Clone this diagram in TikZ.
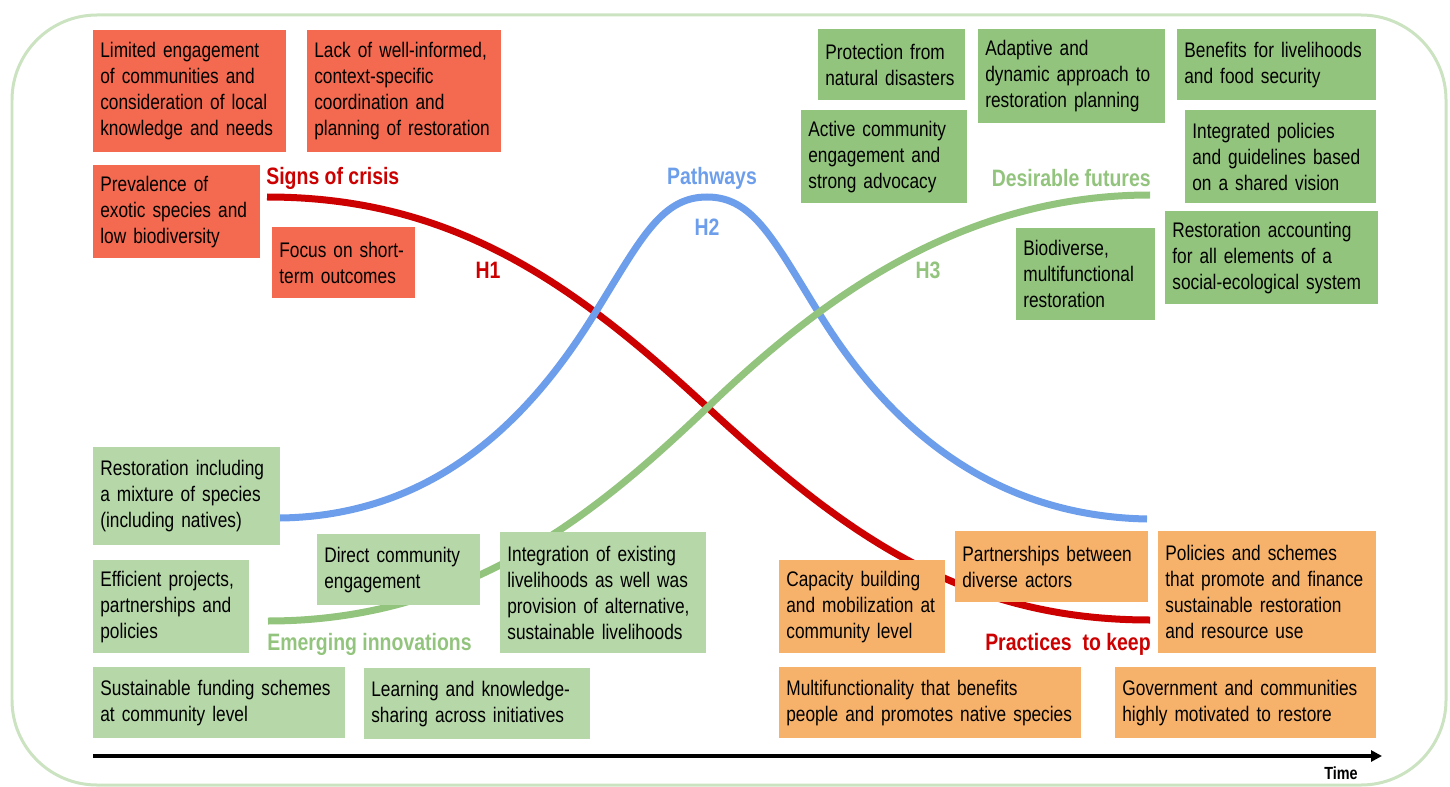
\documentclass[tikz,border=0pt]{standalone}
\usepackage{fontspec}
\setmainfont{Liberation Sans}[FakeStretch=0.82]
\usetikzlibrary{arrows.meta,backgrounds}

\definecolor{crisisred}{RGB}{243,106,80}
\definecolor{futuregreen}{RGB}{147,196,125}
\definecolor{innovgreen}{RGB}{182,215,168}
\definecolor{keeporange}{RGB}{246,178,107}
\definecolor{hredline}{RGB}{204,0,0}
\definecolor{hblueline}{RGB}{109,158,235}
\definecolor{hgreenline}{RGB}{147,196,125}
\definecolor{framegreen}{RGB}{203,227,193}

\begin{document}
\begin{tikzpicture}[x=0.02cm, y=-0.02cm,
    card/.style={anchor=north west, align=left, inner xsep=0.14cm, inner ysep=0pt, font=\fontsize{12}{14.76}\selectfont},
    crisis/.style={card, fill=crisisred},
    future/.style={card, fill=futuregreen},
    innov/.style={card, fill=innovgreen},
    keep/.style={card, fill=keeporange},
    phase/.style={font=\fontsize{13.5}{16}\selectfont\bfseries, inner sep=0pt},
    horizon/.style={line width=0.14cm}]

    \useasboundingbox (0,0) rectangle (1450,787);
    \draw [framegreen, line width=0.06cm, rounded corners=1.7cm] (12,15) rectangle (1446,785);

    % Signs of crisis
    \node [crisis, text width=3.58cm, minimum height=2.44cm] (limited) at (93,30) {Limited engagement\\of communities and\\consideration of local\\knowledge and needs};
    \node [crisis, text width=3.60cm, minimum height=2.44cm] (lack) at (307,30) {Lack of well-informed,\\context-specific\\coordination and\\planning of restoration};
    \node [crisis, text width=3.06cm, minimum height=1.86cm] (prevalence) at (93,165) {Prevalence of\\exotic species and\\low biodiversity};
    \node [crisis, text width=2.58cm, minimum height=1.42cm] (shortterm) at (272,227) {Focus on short-\\term outcomes};

    % Desirable futures
    \node [future, text width=2.66cm, minimum height=1.42cm] (disasters) at (818,29) {Protection from\\natural disasters};
    \node [future, text width=3.46cm, minimum height=1.88cm] (adaptive) at (978,29) {Adaptive and\\dynamic approach to\\restoration planning};
    \node [future, text width=3.70cm, minimum height=1.42cm] (benefits) at (1177,29) {Benefits for livelihoods\\and food security};
    \node [future, text width=3.04cm, minimum height=1.86cm] (active) at (801,110) {Active community\\engagement and\\strong advocacy};
    \node [future, text width=3.54cm, minimum height=1.86cm] (integrated) at (1185,110) {Integrated policies\\and guidelines based\\on a shared vision};
    \node [future, text width=2.50cm, minimum height=1.84cm] (biodiverse) at (1016,228) {Biodiverse,\\multifunctional\\restoration};
    \node [future, text width=3.98cm, minimum height=1.86cm] (accounting) at (1165,211) {Restoration accounting\\for all elements of a\\social-ecological system};

    % Emerging innovations
    \node [innov, text width=3.46cm, minimum height=1.96cm] (mixture) at (93,447) {Restoration including\\a mixture of species\\(including natives)};
    \node [innov, text width=2.84cm, minimum height=1.86cm] (efficient) at (93,560) {Efficient projects,\\partnerships and\\policies};
    \node [innov, text width=2.98cm, minimum height=1.42cm] (direct) at (317,534) {Direct community\\engagement};
    \node [innov, text width=3.84cm, minimum height=2.42cm] (livelihoods) at (500,532) {Integration of existing\\livelihoods as well was\\provision of alternative,\\sustainable livelihoods};
    \node [innov, text width=4.76cm, minimum height=1.42cm] (funding) at (93,667) {Sustainable funding schemes\\at community level};
    \node [innov, text width=4.24cm, minimum height=1.42cm] (learning) at (364,668) {Learning and knowledge-\\sharing across initiatives};

    % Practices to keep
    \node [keep, text width=3.04cm, minimum height=1.86cm] (capacity) at (779,560) {Capacity building\\and mobilization at\\community level};
    \node [keep, text width=3.58cm, minimum height=1.42cm] (partners) at (955,531) {Partnerships between\\diverse actors};
    \node [keep, text width=4.08cm, minimum height=2.44cm] (schemes) at (1158,531) {Policies and schemes\\that promote and finance\\sustainable restoration\\and resource use};
    \node [keep, text width=5.76cm, minimum height=1.42cm] (multifunc) at (779,667) {Multifunctionality that benefits\\people and promotes native species};
    \node [keep, text width=4.94cm, minimum height=1.42cm] (government) at (1115,667) {Government and communities\\highly motivated to restore};

    % curve labels
    \node [phase, hredline, anchor=west] (crisislabel) at (266,178) {Signs of crisis};
    \node [phase, hredline] (hone) at (488,270) {H1};
    \node [phase, hblueline] (pathlabel) at (712,178) {Pathways};
    \node [phase, hblueline] (htwo) at (707,227) {H2};
    \node [phase, hgreenline, anchor=east] (futurelabel) at (1151,178) {Desirable futures};
    \node [phase, hgreenline] (hthree) at (928,270) {H3};
    \node [phase, hgreenline, anchor=west] (innovlabel) at (267,644) {Emerging innovations};
    \node [phase, hredline, anchor=east] (keeplabel) at (1151,644) {Practices\ \ to keep};

    \coordinate (h1start) at (267,197);
    \coordinate (h1end) at (1150,620);
    \coordinate (h2start) at (280,518);
    \coordinate (h2peak) at (707,197);
    \coordinate (h2end) at (1147,519);
    \coordinate (h3start) at (268,621);
    \coordinate (h3end) at (1150,195);

    \begin{scope}[on background layer]
        \draw [horizon, hredline] (h1start) .. controls (450,197) and (570,280) .. (706,406)
            .. controls (842,532) and (960,620) .. (h1end);
        \draw [horizon, hblueline] (h2start) .. controls (430,516) and (525,425) .. (592,318)
            .. controls (640,241) and (660,197) .. (h2peak)
            .. controls (754,197) and (774,241) .. (822,318)
            .. controls (889,425) and (990,516) .. (h2end);
        \draw [horizon, hgreenline] (h3start) .. controls (470,621) and (600,510) .. (710,405)
            .. controls (820,300) and (960,195) .. (h3end);
    \end{scope}

    % time axis
    \coordinate (tstart) at (93,756);
    \coordinate (tend) at (1382,756);
    \draw [line width=0.08cm, -{Triangle[length=0.22cm, width=0.22cm]}] (tstart) -- (tend);
    \node [font=\fontsize{10}{12}\selectfont\bfseries, inner sep=0pt] (timelabel) at (1341,773) {Time};

\end{tikzpicture}
\end{document}
